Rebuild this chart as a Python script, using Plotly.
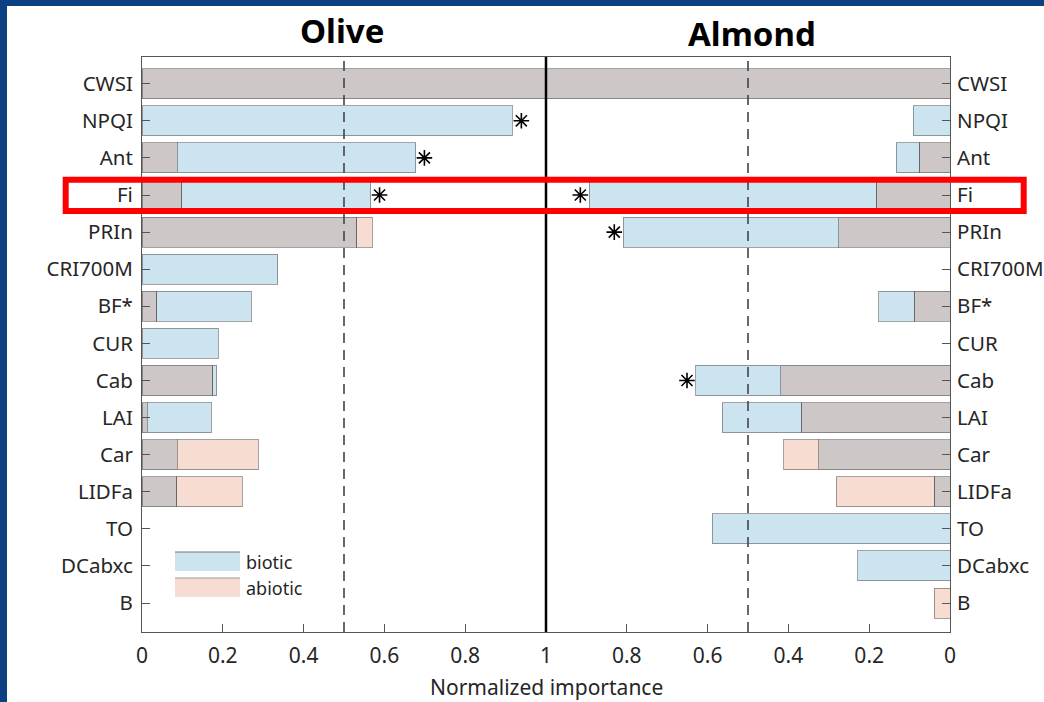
import plotly.graph_objects as go
from plotly.subplots import make_subplots

categories = ["CWSI", "NPQI", "Ant", "Fi", "PRIn", "CRI700M", "BF*", "CUR",
              "Cab", "LAI", "Car", "LIDFa", "TO", "DCabxc", "B"]

# Olive: segment lengths (grey = shared, blue = biotic, pink = abiotic)
olive_grey = [1.0, None, 0.087, 0.098, 0.532, None, 0.037, None, 0.175, 0.013, 0.087, 0.086, None, None, None]
olive_blue = [None, 0.917, 0.590, 0.468, None, 0.336, 0.234, 0.189, 0.010, 0.159, None, None, None, None, None]
olive_pink = [None, None, None, None, 0.038, None, None, None, None, None, 0.201, 0.162, None, None, None]
olive_star = ["NPQI", "Ant", "Fi"]

# Almond
almond_grey = [1.0, None, 0.076, 0.183, 0.276, None, 0.088, None, 0.419, 0.368, 0.325, 0.039, None, None, None]
almond_blue = [None, 0.091, 0.057, 0.710, 0.533, None, 0.088, None, 0.210, 0.196, None, None, 0.589, 0.228, None]
almond_pink = [None, None, None, None, None, None, None, None, None, None, 0.086, 0.242, None, None, 0.039]
almond_star = ["Fi", "PRIn", "Cab"]

titles = ["Olive", "Almond"]
x_title = "Normalized importance"
legend_labels = ["biotic", "abiotic"]

GREY = "rgb(206,199,199)"
BLUE = "rgb(204,227,240)"
PINK = "rgb(247,220,209)"
EDGE = "rgba(70,70,70,0.5)"
TXT = "#262626"
AX = "#555555"
FONT = "Noto Sans, DejaVu Sans, sans-serif"
TFONT = "Liberation Sans Narrow, Arial Narrow, Noto Sans, sans-serif"

fig = make_subplots(rows=1, cols=2, horizontal_spacing=0)


def add_panel(col, grey, blue, pink, stars):
    for vals, colr in ((grey, GREY), (blue, BLUE), (pink, PINK)):
        fig.add_trace(go.Bar(y=categories, x=vals, orientation="h", width=0.81,
                             marker=dict(color=colr, line=dict(color=EDGE, width=1)),
                             showlegend=False, hoverinfo="skip"), row=1, col=col)
    totals = []
    for c in stars:
        i = categories.index(c)
        totals.append(sum(v for v in (grey[i], blue[i], pink[i]) if v) + 0.022)
    fig.add_trace(go.Scatter(y=stars, x=totals, mode="markers",
                             marker=dict(symbol="asterisk-open", size=13, color="black",
                                         line=dict(color="black", width=1.6)),
                             showlegend=False, hoverinfo="skip"), row=1, col=col)


add_panel(1, olive_grey, olive_blue, olive_pink, olive_star)
add_panel(2, almond_grey, almond_blue, almond_pink, almond_star)

yr = [14.78, -0.72]
common_y = dict(categoryorder="array", categoryarray=categories, range=yr,
                showline=True, linecolor=AX, linewidth=1, ticks="inside", ticklen=8,
                tickcolor=AX, tickfont=dict(family=FONT, size=20.5, color=TXT),
                showgrid=False, zeroline=False)
fig.update_yaxes(**common_y, side="left", ticklabelstandoff=4, row=1, col=1)
fig.update_yaxes(**common_y, side="right", ticklabelstandoff=2, row=1, col=2)

common_x = dict(showline=True, linecolor=AX, linewidth=1, mirror=True, ticks="inside",
                ticklen=8, tickcolor=AX, tickfont=dict(family=FONT, size=21, color=TXT),
                showgrid=False, zeroline=False, ticklabelstandoff=5)
fig.update_xaxes(**common_x, range=[0, 1], tickvals=[0, 0.2, 0.4, 0.6, 0.8, 1],
                 ticktext=["0", "0.2", "0.4", "0.6", "0.8", "1"], row=1, col=1)
fig.update_xaxes(**common_x, range=[1, 0], tickvals=[0, 0.2, 0.4, 0.6, 0.8],
                 ticktext=["0", "0.2", "0.4", "0.6", "0.8"], row=1, col=2)

# plot area pixel geometry
L, R, T, B = 142, 950, 57, 632
W, H = R - L, B - T


def px(x):
    return (x - L) / W


def py(y):
    return (B - y) / H


shapes = []
for xr in ("x", "x2"):
    shapes.append(dict(type="line", xref=xr, yref="paper", x0=0.5, x1=0.5, y0=0, y1=1,
                       line=dict(color="#444444", width=1.6, dash="10px,7px"), layer="above"))
# solid divider at importance = 1 (panel boundary)
shapes.append(dict(type="line", xref="paper", yref="paper", x0=0.5, x1=0.5, y0=0, y1=1,
                   line=dict(color="black", width=2.5), layer="above"))
# legend patches
shapes.append(dict(type="rect", xref="paper", yref="paper", x0=px(175), x1=px(240),
                   y0=py(571), y1=py(552), fillcolor=BLUE, line=dict(width=0)))
shapes.append(dict(type="line", xref="paper", yref="paper", x0=px(175), x1=px(240),
                   y0=py(552), y1=py(552), line=dict(color="#777777", width=1.2)))
shapes.append(dict(type="rect", xref="paper", yref="paper", x0=px(175), x1=px(240),
                   y0=py(597), y1=py(578), fillcolor=PINK, line=dict(width=0)))
shapes.append(dict(type="line", xref="paper", yref="paper", x0=px(175), x1=px(240),
                   y0=py(578), y1=py(578), line=dict(color="#999999", width=1)))
# red highlight rectangle
shapes.append(dict(type="rect", xref="paper", yref="paper", x0=px(65.7), x1=px(1023.7),
                   y0=py(211), y1=py(179.7), line=dict(color="#FF0000", width=6),
                   fillcolor="rgba(0,0,0,0)", layer="above"))
# blue slide frame
shapes.append(dict(type="rect", xref="paper", yref="paper", x0=px(-5), x1=px(1050),
                   y0=py(6), y1=py(-5), fillcolor="#0B4182", line=dict(width=0)))
shapes.append(dict(type="rect", xref="paper", yref="paper", x0=px(-5), x1=px(7),
                   y0=py(710), y1=py(-5), fillcolor="#0B4182", line=dict(width=0)))

annotations = [
    dict(text=titles[0], xref="paper", yref="paper", x=px(342), y=py(30),
         xanchor="center", yanchor="middle", showarrow=False,
         font=dict(family=TFONT, size=33, color="black", weight="bold")),
    dict(text=titles[1], xref="paper", yref="paper", x=px(752), y=py(33),
         xanchor="center", yanchor="middle", showarrow=False,
         font=dict(family=TFONT, size=33, color="black", weight="bold")),
    dict(text=x_title, xref="paper", yref="paper", x=px(546), y=py(687),
         xanchor="center", yanchor="middle", showarrow=False,
         font=dict(family=FONT, size=21, color=TXT)),
    dict(text=legend_labels[0], xref="paper", yref="paper", x=px(244), y=py(562),
         xanchor="left", yanchor="middle", showarrow=False,
         font=dict(family=FONT, size=18, color=TXT)),
    dict(text=legend_labels[1], xref="paper", yref="paper", x=px(244), y=py(588),
         xanchor="left", yanchor="middle", showarrow=False,
         font=dict(family=FONT, size=18, color=TXT)),
]

fig.update_layout(width=1044, height=702, barmode="stack", bargap=0.19,
                  margin=dict(l=L, r=1044 - R, t=T, b=702 - B, autoexpand=False),
                  plot_bgcolor="white", paper_bgcolor="white",
                  shapes=shapes, annotations=annotations, showlegend=False)

fig.write_html("out.html", config={"displayModeBar": False},
               post_script="document.body.style.margin='0';document.body.style.overflow='hidden';")
